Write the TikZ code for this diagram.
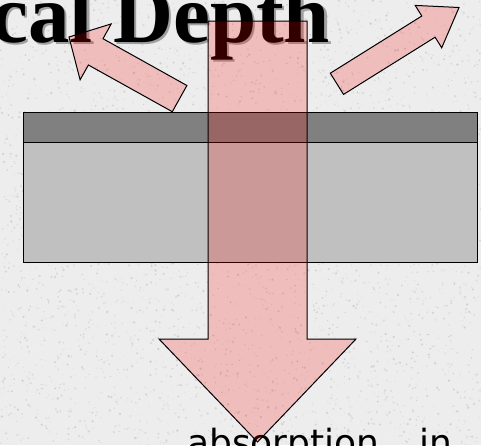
\documentclass[tikz,border=0pt]{standalone}
\usepackage{fontspec}
\newfontfamily\titlefont{Liberation Serif}
\newfontfamily\bodyfont{DejaVu Sans}
\definecolor{bgcol}{RGB}{237,237,237}
\definecolor{darklayer}{RGB}{128,128,128}
\definecolor{lightlayer}{RGB}{192,192,192}
\definecolor{shadowcol}{RGB}{160,160,160}
\tikzset{
  lightarrow/.style={draw=black, line width=1pt, line join=miter, fill=red, fill opacity=0.2},
  layerbox/.style={draw=black, line width=1pt},
  titletext/.style={inner sep=0pt, anchor=base west, font=\titlefont\bfseries\fontsize{83}{83}\selectfont},
  bodytext/.style={inner sep=0pt, anchor=base west, font=\bodyfont\fontsize{36}{36}\selectfont}
}
\begin{document}
\begin{tikzpicture}[x=1pt,y=-1pt]
\useasboundingbox (0,0) rectangle (481,445);
\clip (0,0) rectangle (481,445);
\fill[bgcol] (0,0) rectangle (481,445);
% granite-like speckle texture
\pgfmathsetseed{11}
\foreach \i in {1,...,5000}{
  \pgfmathsetmacro\xx{rnd*481}
  \pgfmathsetmacro\yy{rnd*445}
  \pgfmathtruncatemacro\gg{rnd*14+6}
  \pgfmathsetmacro\rr{rnd*0.8+0.5}
  \fill[black!\gg] (\xx,\yy) circle (\rr);
}
% title with shadow
\node[titletext, text=shadowcol] (titleshadow) at (-6.5,44.5) {cal Depth};
\node[titletext, text=black] (title) at (-9,42) {cal Depth};
% bottom text
\node[bodytext] (bottomtext) at (187,455) {absorption\hspace{40pt}in};
% layered slab
\path[layerbox, fill=lightlayer] (23,142) rectangle (477,262);
\path[layerbox, fill=darklayer] (23,112) rectangle (477,142);
% left reflected arrow
\path[lightarrow] (69,37) -- (111.2,23.9) -- (103.0,38.7) -- (186.9,85.5)
  -- (172.3,111.7) -- (88.4,65.0) -- (80.1,79.8) -- cycle;
% right reflected arrow
\path[lightarrow] (459,7.5) -- (441.7,47.8) -- (435.1,37.2) -- (343.5,94.4)
  -- (330.3,73.2) -- (421.8,16.0) -- (415.2,5.4) -- cycle;
% big transmitted arrow
\path[lightarrow] (208,21) -- (307,21) -- (307,339) -- (356,339) -- (257.5,442)
  -- (159,339) -- (208,339) -- cycle;
\end{tikzpicture}
\end{document}
